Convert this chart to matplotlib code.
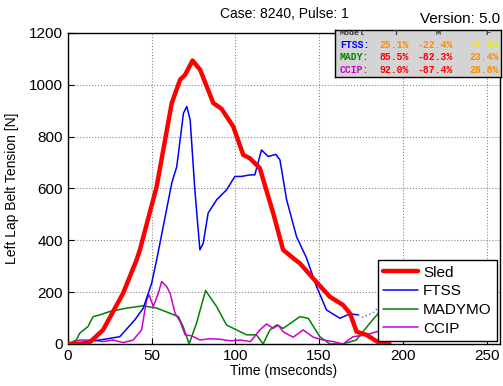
import matplotlib
matplotlib.use('Agg')
import matplotlib.pyplot as plt
import numpy as np

plt.rcParams['font.family'] = ['Liberation Sans', 'DejaVu Sans']

# Sled (measured)
sled_t = [0, 12, 21, 33, 41, 43, 53, 62, 67, 70, 74.4, 79, 86.8, 91.7, 98.7, 104.7,
          108.7, 114.6, 122.6, 128.5, 134.5, 138.5, 146.4, 156.4, 164.3, 168.4,
          172.4, 178.3, 186, 192]
sled_f = [0, 0, 54, 196, 324, 363, 607, 929, 1019, 1038, 1093, 1057, 929, 907, 839, 729,
          716, 678, 504, 363, 331, 311, 253, 182, 150, 118,
          47, 35, 3, 0]

# FTSS
ftss_t = [0, 19, 31, 40, 45, 50, 53, 62, 65, 69, 71, 73, 75.8, 78.8, 80.8, 83.7, 88.8,
          94.7, 99.7, 103.7, 108.7, 111.6, 115.6, 119.6, 124.2, 126.6, 130.6, 136.5,
          142.5, 148.5, 154.4, 162.4, 168.4, 173.3]
ftss_f = [0, 15, 28, 93, 138, 234, 324, 620, 684, 890, 916, 864, 594, 363, 388, 504, 556,
          594, 646, 646, 652, 652, 748, 723, 731, 710, 556, 414,
          331, 221, 131, 99, 116, 112]
ftss_tail_t = [173.3, 176, 182, 186, 192, 196]
ftss_tail_f = [112, 103, 119, 144, 170, 180]

# MADYMO
mady_t = [0, 5, 7, 12, 15, 19, 25, 35, 45, 53, 61, 66, 68.8, 72.4, 76.8, 82.2, 88.8,
          94.7, 100.7, 106.7, 112.6, 116.6, 120.6, 124.6, 128.5, 138.5, 143.5,
          150.4, 156.4, 164.3, 172.2, 180.3, 186.3, 190]
mady_f = [0, 15, 41, 67, 105, 112, 125, 138, 147, 138, 118, 105, 67, 0, 80, 206, 144,
          73, 54, 35, 35, 0, 54, 73, 60, 105, 99,
          28, 0, 0, 15, 80, 125, 140]

# CCIP
ccip_t = [0, 7, 15, 21, 27, 33, 39, 44, 47, 48.5, 51, 54, 56, 59, 61, 64, 67, 70, 74,
          79, 84, 91, 97, 103, 109, 114.6, 118.6, 122.6, 125.6, 128.5, 134.5, 140.5,
          146.5, 152.4, 158.4, 164.3, 170.3, 178.3, 184.2, 190]
ccip_f = [0, 15, 15, 9, 15, 5, 15, 54, 170, 189, 144, 196, 241, 221, 196, 118, 86, 35, 31,
          15, 20, 18, 12, 15, 9, 54, 77, 60, 73, 47, 26, 54,
          26, 15, 9, 0, 28, 35, 47, 50]

series_labels = ['Sled', 'FTSS', 'MADYMO', 'CCIP']
table_header = ['Model', 'T', 'M', 'F']
table_models = ['FTSS:', 'MADY:', 'CCIP:']
table_t = ['25.1%', '85.5%', '92.0%']
table_m = ['-22.4%', '-82.3%', '-87.4%']
table_f = ['11.3%', '23.4%', '28.8%']

fig = plt.figure(figsize=(5.03, 3.86), dpi=100)
ax = fig.add_axes([0.135, 0.109, 0.859, 0.806])

lkw = dict(solid_joinstyle='round', solid_capstyle='round')
ax.plot(sled_t, sled_f, color='red', lw=3.2, label=series_labels[0], zorder=5, **lkw)
ax.plot(ftss_t, ftss_f, color='blue', lw=1.1, label=series_labels[1], zorder=4, **lkw)
ax.plot(ftss_tail_t, ftss_tail_f, color='#6f6fff', lw=1.1, ls=':', zorder=4)
ax.plot(mady_t, mady_f, color='green', lw=1.1, label=series_labels[2], zorder=3, **lkw)
ax.plot(ccip_t, ccip_f, color='#cc00cc', lw=1.1, label=series_labels[3], zorder=3, **lkw)

ax.set_xlim(0, 258)
ax.set_ylim(0, 1200)
ax.set_xticks([0, 50, 100, 150, 200, 250])
ax.set_yticks([0, 200, 400, 600, 800, 1000, 1200])
ax.tick_params(direction='in', labelsize=11, length=4, width=0.8)
ax.grid(True, color='#888888', ls=':', lw=0.8)
for s in ax.spines.values():
    s.set_linewidth(1.0)

ax.set_xlabel('Time (mseconds)', fontsize=10, labelpad=1)
ax.set_ylabel('Left Lap Belt Tension [N]', fontsize=10, labelpad=7)
ax.set_title('Case: 8240, Pulse: 1', fontsize=10, pad=11)
fig.text(0.995, 0.932, 'Version: 5.0', ha='right', va='bottom', fontsize=11)

leg = ax.legend(loc='lower right', fontsize=11, frameon=True, fancybox=False,
                edgecolor='black', framealpha=1, borderpad=0.35, labelspacing=0.3,
                handlelength=2.3, handletextpad=0.3, borderaxespad=0.2)
leg.get_frame().set_linewidth(1.0)
leg.set_zorder(10)

# score table in upper right corner
tb = fig.add_axes([0.666, 0.80, 0.33, 0.122])
tb.set_xlim(0, 1)
tb.set_ylim(0, 1)
tb.set_xticks([])
tb.set_yticks([])
tb.set_facecolor('#d4d4d4')
for s in tb.spines.values():
    s.set_linewidth(1.0)
mono = dict(family='Liberation Mono', fontweight='bold', fontsize=7, va='center')
tb.text(0.03, 0.92, table_header[0], color='#333333', fontsize=6, **{k: v for k, v in mono.items() if k != 'fontsize'})
for c, h in zip([0.37, 0.62, 0.92], table_header[1:]):
    tb.text(c, 0.92, h, color='#333333', ha='center', fontsize=6,
            **{k: v for k, v in mono.items() if k != 'fontsize'})
model_colors = ['blue', 'green', '#cc00cc']
t_colors = ['#ff8c00', 'red', 'red']
m_colors = ['#ff8c00', 'red', 'red']
f_colors = ['#f0f000', '#ff8c00', '#ff8c00']
rows_y = [0.68, 0.42, 0.16]
for i, y in enumerate(rows_y):
    tb.text(0.03, y, table_models[i], color=model_colors[i], **mono)
    tb.text(0.27, y, table_t[i], color=t_colors[i], **mono)
    tb.text(0.50, y, table_m[i], color=m_colors[i], **mono)
    tb.text(0.81, y, table_f[i], color=f_colors[i], **mono)

fig.savefig('out.png', dpi=100)
